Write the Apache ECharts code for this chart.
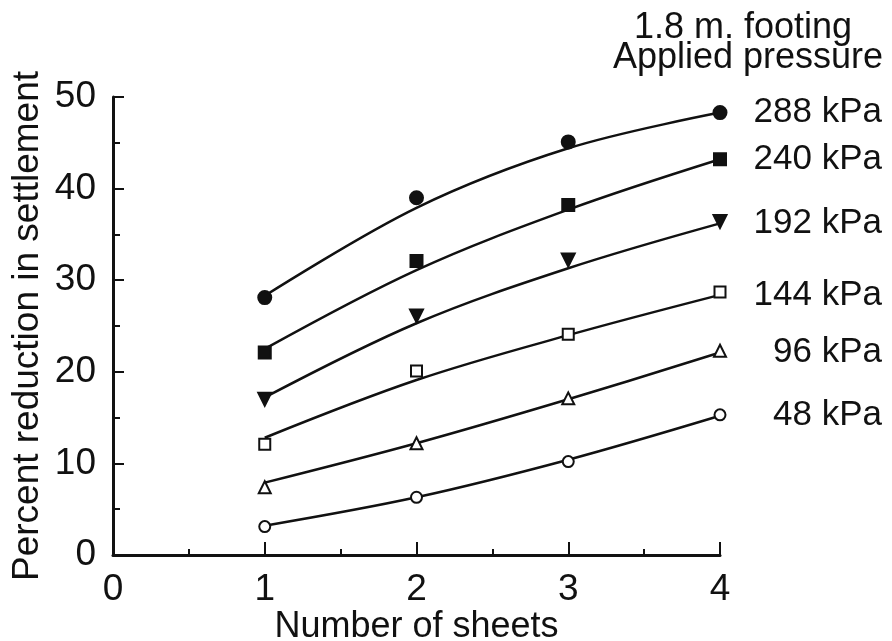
<!DOCTYPE html>
<html>
<head>
<meta charset="utf-8">
<script src="https://cdn.jsdelivr.net/npm/echarts@6/dist/echarts.min.js"></script>
<style>html,body{margin:0;padding:0;background:#fff;}#c{width:892px;height:641px;}</style>
</head>
<body>
<div id="c"></div>
<script>
var sheets = [1, 2, 3, 4];
var pressureLabels = ['288 kPa', '240 kPa', '192 kPa', '144 kPa', '96 kPa', '48 kPa'];
// measured points
var pts288 = [28.1, 39.0, 45.1, 48.3];
var pts240 = [22.1, 32.1, 38.2, 43.2];
var pts192 = [17.0, 26.1, 32.2, 36.4];
var pts144 = [12.1, 20.1, 24.1, 28.7];
var pts96  = [7.4, 12.2, 17.1, 22.3];
var pts48  = [3.1, 6.3, 10.2, 15.3];
// fitted curves, read at each sheet count
var fit288 = [28.3, 37.9, 44.4, 48.3];
var fit240 = [22.5, 31.1, 37.7, 43.2];
var fit192 = [17.2, 25.3, 31.3, 36.2];
var fit144 = [12.8, 19.1, 24.0, 28.4];
var fit96  = [7.9, 12.2, 17.0, 22.1];
var fit48  = [3.2, 6.3, 10.4, 15.2];

var FONT = 'Liberation Sans';
var pts = [pts288, pts240, pts192, pts144, pts96, pts48];
var fits = [fit288, fit240, fit192, fit144, fit96, fit48];
var symbols = [
  {symbol: 'circle', size: 13, fill: '#111', rot: 0},
  {symbol: 'rect', size: 12, fill: '#111', rot: 0},
  {symbol: 'triangle', size: 13, fill: '#111', rot: 180},
  {symbol: 'rect', size: 11, fill: '#fff', rot: 0},
  {symbol: 'triangle', size: 12, fill: '#fff', rot: 0},
  {symbol: 'circle', size: 11, fill: '#fff', rot: 0}
];

function pairs(arr) { return sheets.map(function (x, i) { return [x, arr[i]]; }); }

var series = [];
for (var k = 0; k < pts.length; k++) {
  series.push({
    name: pressureLabels[k],
    type: 'line',
    data: pairs(fits[k]),
    smooth: 0.35,
    showSymbol: false,
    lineStyle: {color: '#111', width: 2.5},
    z: 2,
    endLabel: {
      show: true,
      distance: 12,
      formatter: '{t|{a}}',
      rich: {t: {width: 150, align: 'right', fontFamily: FONT, fontSize: 35, color: '#111'}}
    },
    labelLayout: {hideOverlap: false}
  });
  series.push({
    name: pressureLabels[k] + ' data',
    type: 'scatter',
    data: pairs(pts[k]),
    symbol: symbols[k].symbol,
    symbolSize: symbols[k].size,
    symbolRotate: symbols[k].rot,
    itemStyle: {color: symbols[k].fill, borderColor: '#111', borderWidth: 2, opacity: 1},
    z: 3
  });
}

var chart = echarts.init(document.getElementById('c'), null, {renderer: 'canvas'});
chart.setOption({
  backgroundColor: '#fff',
  animation: false,
  grid: {left: 113, right: 172, top: 97, bottom: 86, containLabel: false, outerBoundsMode: 'none'},
  xAxis: {
    type: 'value', min: 0, max: 4, interval: 1,
    name: 'Number of sheets', nameLocation: 'middle', nameGap: 54, nameMoveOverlap: false,
    nameTextStyle: {fontFamily: FONT, fontSize: 36, color: '#111'},
    axisLine: {lineStyle: {color: '#111', width: 3}},
    axisTick: {inside: true, length: 13, lineStyle: {color: '#111', width: 2}},
    minorTick: {show: true, splitNumber: 2, length: 6, lineStyle: {color: '#111', width: 2}},
    axisLabel: {fontFamily: FONT, fontSize: 37, color: '#111', margin: 16},
    splitLine: {show: false}
  },
  yAxis: {
    type: 'value', min: 0, max: 50, interval: 10,
    name: 'Percent reduction in settlement', nameLocation: 'middle', nameGap: 67, nameRotate: 90, nameMoveOverlap: false,
    nameTextStyle: {fontFamily: FONT, fontSize: 37, color: '#111'},
    axisLine: {lineStyle: {color: '#111', width: 3}},
    axisTick: {inside: true, length: 11, lineStyle: {color: '#111', width: 2}},
    minorTick: {show: true, splitNumber: 2, length: 7, lineStyle: {color: '#111', width: 2}},
    axisLabel: {fontFamily: FONT, fontSize: 37, color: '#111', margin: 17},
    splitLine: {show: false}
  },
  graphic: [
    {type: 'text', x: 743, y: 28, style: {text: '1.8 m. footing', textAlign: 'center', textVerticalAlign: 'middle', font: '36px "Liberation Sans"', fill: '#111'}},
    {type: 'text', x: 748, y: 58, style: {text: 'Applied pressure', textAlign: 'center', textVerticalAlign: 'middle', font: '36px "Liberation Sans"', fill: '#111'}}
  ],
  series: series
});
</script>
</body>
</html>
